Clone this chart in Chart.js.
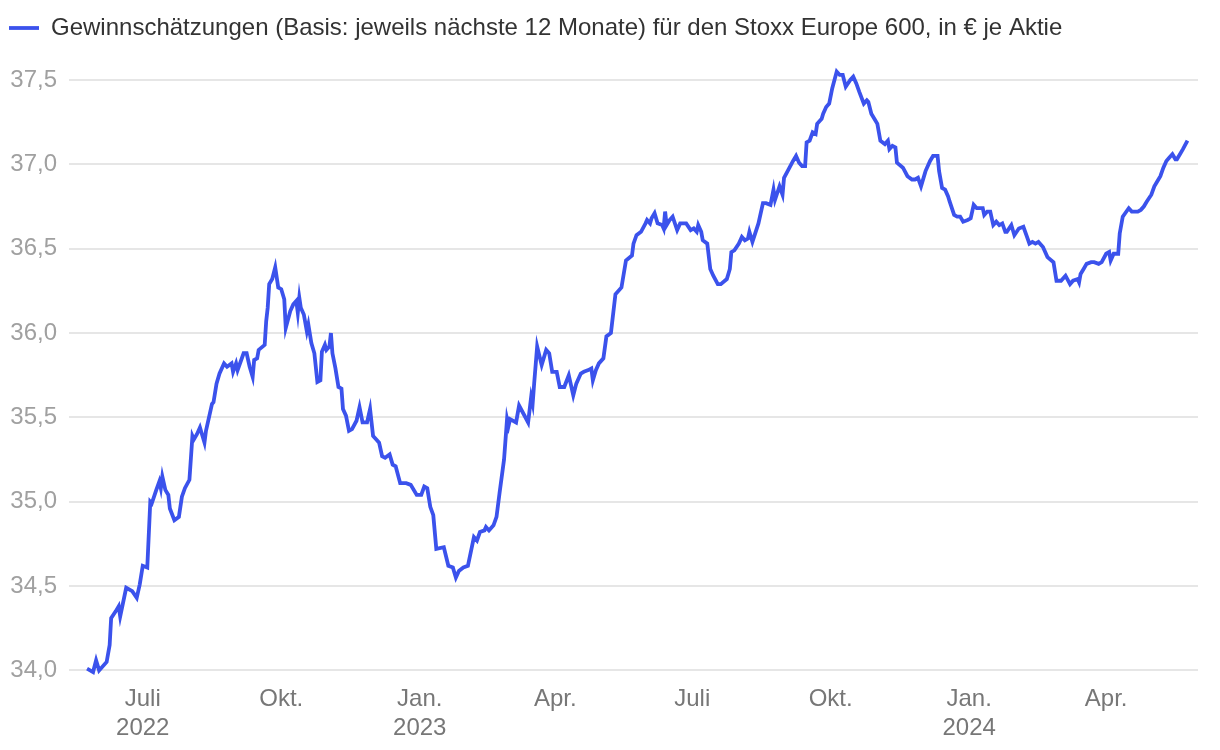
<!DOCTYPE html>
<html>
<head>
<meta charset="utf-8">
<script src="https://cdn.jsdelivr.net/npm/chart.js@4"></script>
<style>
  html, body { margin: 0; padding: 0; background: #fff; }
  #wrap { position: relative; width: 1220px; height: 750px; }
</style>
</head>
<body>
<div id="wrap"><canvas id="c" width="1220" height="750"></canvas></div>
<script>
const seriesLabel = 'Gewinnschätzungen (Basis: jeweils nächste 12 Monate) für den Stoxx Europe 600, in € je Aktie';
const baseDate = '2022-07-01';
// days since baseDate
const days = [
  -37,-33,-31,-29,-24,-22,-21,-18,-16,-15,
  -11,-7,-4,-2,0,3,5,6,9,11,
  12,13,15,17,18,21,24,26,28,31,
  33,34,36,38,41,42,46,47,49,51,
  54,56,59,60,62,63,67,69,71,73,
  74,76,77,81,82,83,84,86,88,90,
  92,94,95,98,100,102,103,104,105,107,
  109,110,112,114,116,118,119,121,122,124,
  125,126,128,130,132,133,135,137,139,142,
  144,146,149,151,153,155,157,159,161,164,
  166,168,171,175,178,182,185,187,189,191,
  193,195,200,203,206,208,210,213,216,220,
  222,224,227,228,230,233,235,237,240,242,
  243,244,248,250,253,256,258,259,260,262,
  265,268,270,272,275,277,280,283,286,288,
  291,293,296,298,299,301,303,306,308,311,
  314,318,321,325,326,328,331,334,335,337,
  338,340,342,345,346,347,348,350,352,355,
  357,359,361,364,366,368,369,371,372,375,
  377,379,382,384,388,390,391,393,396,398,
  400,402,403,405,409,412,414,417,419,420,
  423,425,426,429,432,434,436,438,440,441,
  443,445,447,448,451,452,454,456,458,461,
  463,465,467,470,472,474,476,479,481,482,
  484,486,488,490,493,495,496,498,500,501,
  505,508,511,513,515,517,520,523,525,528,
  529,531,533,535,536,539,541,543,545,548,
  550,552,554,556,558,559,561,563,565,567,
  569,571,573,574,577,579,582,585,587,589,
  591,593,595,598,601,605,607,610,613,616,
  618,621,622,623,625,627,630,632,635,637,
  640,642,643,645,648,649,651,655,657,659,
  661,663,665,667,670,672,674,676,678,680,
  682,684,686,687,689,691,694
];
const values = [
  34.01,33.99,34.06,34.00,34.05,34.15,34.31,34.35,34.38,34.32,
  34.49,34.47,34.43,34.51,34.62,34.61,35.00,34.99,35.07,35.12,
  35.08,35.15,35.07,35.04,34.96,34.89,34.91,35.03,35.08,35.13,
  35.39,35.37,35.40,35.44,35.35,35.42,35.58,35.59,35.70,35.76,
  35.82,35.80,35.82,35.77,35.82,35.78,35.88,35.88,35.80,35.74,
  35.84,35.85,35.90,35.93,36.07,36.15,36.29,36.32,36.39,36.27,
  36.26,36.20,36.03,36.13,36.17,36.19,36.12,36.21,36.15,36.11,
  36.01,36.05,35.94,35.88,35.71,35.72,35.89,35.93,35.90,35.92,
  36.00,35.88,35.79,35.68,35.67,35.55,35.51,35.42,35.43,35.48,
  35.56,35.47,35.47,35.55,35.39,35.37,35.35,35.27,35.26,35.28,
  35.22,35.21,35.11,35.11,35.10,35.04,35.04,35.09,35.08,34.97,
  34.92,34.72,34.73,34.62,34.61,34.55,34.59,34.61,34.62,34.79,
  34.77,34.82,34.83,34.85,34.83,34.86,34.91,35.05,35.25,35.49,
  35.45,35.49,35.47,35.57,35.52,35.47,35.62,35.58,35.70,35.92,
  35.81,35.90,35.88,35.77,35.77,35.68,35.68,35.75,35.63,35.70,
  35.76,35.77,35.78,35.79,35.72,35.78,35.82,35.85,35.98,36.00,
  36.23,36.27,36.43,36.46,36.53,36.58,36.60,36.65,36.67,36.65,
  36.68,36.71,36.65,36.64,36.62,36.72,36.64,36.67,36.69,36.61,
  36.65,36.65,36.65,36.61,36.62,36.60,36.64,36.60,36.55,36.53,
  36.38,36.34,36.29,36.29,36.32,36.38,36.48,36.49,36.53,36.57,
  36.55,36.56,36.60,36.54,36.65,36.77,36.77,36.76,36.85,36.79,
  36.87,36.82,36.92,36.97,37.02,37.05,37.01,36.99,36.99,37.13,
  37.14,37.19,37.18,37.24,37.27,37.30,37.34,37.36,37.45,37.55,
  37.53,37.53,37.46,37.50,37.52,37.48,37.43,37.36,37.38,37.37,
  37.30,37.27,37.24,37.14,37.12,37.14,37.09,37.11,37.10,37.01,
  36.98,36.93,36.91,36.91,36.92,36.87,36.96,37.02,37.05,37.05,
  36.96,36.86,36.85,36.81,36.78,36.70,36.69,36.69,36.66,36.67,
  36.68,36.76,36.74,36.74,36.74,36.70,36.72,36.72,36.64,36.66,
  36.64,36.65,36.60,36.60,36.64,36.58,36.62,36.63,36.58,36.53,
  36.54,36.53,36.54,36.51,36.45,36.42,36.31,36.31,36.34,36.29,
  36.31,36.32,36.30,36.35,36.38,36.41,36.42,36.42,36.41,36.42,
  36.47,36.48,36.43,36.47,36.47,36.59,36.69,36.74,36.72,36.72,
  36.72,36.73,36.75,36.78,36.82,36.87,36.90,36.93,36.98,37.02,
  37.04,37.06,37.03,37.03,37.06,37.09,37.14
];
const tickDates = ['2022-07-01','2022-10-01','2023-01-01','2023-04-01','2023-07-01','2023-10-01','2024-01-01','2024-04-01'];
const tickLabels = [['Juli','2022'],'Okt.',['Jan.','2023'],'Apr.','Juli','Okt.',['Jan.','2024'],'Apr.'];
const axisStartDate = '2022-05-13';
const axisEndDate = '2024-06-01';
const yMin = 34.0, yMax = 37.5, yStep = 0.5;

const DAY = 86400000;
const dayOf = d => Math.round((Date.parse(d) - Date.parse(baseDate)) / DAY);
const tickDays = tickDates.map(dayOf);
const points = days.map((d, i) => ({ x: d, y: values[i] }));

const FONT = 'Helvetica, Arial, "Liberation Sans", sans-serif';
const BLUE = '#3b52ec';

// extra gap below the legend
const legendGap = {
  id: 'legendGap',
  beforeInit(chart) {
    const lg = chart.legend;
    if (!lg) return;
    const orig = lg.fit;
    lg.fit = function () { orig.call(this); this.height += 30; };
  }
};

const chart = new Chart(document.getElementById('c'), {
  type: 'line',
  data: {
    datasets: [{
      label: seriesLabel,
      data: points,
      borderColor: BLUE,
      backgroundColor: BLUE,
      borderWidth: 3.8,
      pointRadius: 0,
      pointStyle: 'line',
      tension: 0,
      clip: false
    }]
  },
  options: {
    responsive: false,
    animation: false,
    layout: { padding: { top: 7, right: 22, bottom: 0, left: 0 } },
    plugins: {
      tooltip: { enabled: false },
      legend: {
        position: 'top',
        align: 'start',
        labels: {
          usePointStyle: true,
          pointStyleWidth: 30,
          boxHeight: 10,
          padding: 9,
          color: '#333333',
          font: { family: FONT, size: 24 }
        }
      }
    },
    scales: {
      x: {
        type: 'linear',
        min: dayOf(axisStartDate),
        max: dayOf(axisEndDate),
        grid: { display: false },
        border: { display: false },
        afterBuildTicks: s => { s.ticks = tickDays.map(v => ({ value: v })); },
        ticks: {
          autoSkip: false,
          maxRotation: 0,
          padding: 7,
          color: '#777777',
          font: { family: FONT, size: 24, lineHeight: 1.2 },
          callback: (v) => { const i = tickDays.indexOf(v); return i >= 0 ? tickLabels[i] : ''; }
        }
      },
      y: {
        min: yMin,
        max: yMax,
        afterFit: s => { s.width = 69; },
        grid: { color: '#e6e6e6', lineWidth: 2, drawTicks: false },
        border: { display: false },
        ticks: {
          stepSize: yStep,
          padding: 12,
          color: '#a0a0a0',
          font: { family: FONT, size: 24 },
          callback: v => Number(v).toFixed(1).replace('.', ',')
        }
      }
    }
  },
  plugins: [legendGap]
});
</script>
</body>
</html>
